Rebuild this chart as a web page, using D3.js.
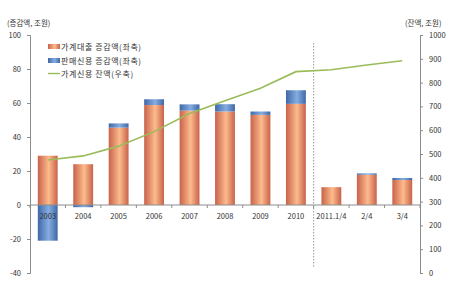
<!DOCTYPE html>
<html>
<head>
<meta charset="utf-8">
<script src="https://cdn.jsdelivr.net/npm/d3@7"></script>
<style>
    body { margin: 0; background: #fff; }
    text { font-family: "Noto Sans CJK KR", "Noto Sans", sans-serif; fill: #333; }
</style>
</head>
<body>
<div id="chart"></div>
<script>
var categories = ["2003", "2004", "2005", "2006", "2007", "2008", "2009", "2010", "2011.1/4", "2/4", "3/4"];
var loanChange = [29, 24, 45.5, 58.8, 55.5, 55, 53, 59.5, 10.5, 17.8, 14.7];
var salesCreditChange = [-21, -1.3, 2.5, 3.4, 3.7, 4.3, 2, 8, 0, 0.8, 1.2];
var creditBalance = [475, 492, 533, 594, 670, 724, 776, 846, 854, 874, 892];
var leftTicks = [-40, -20, 0, 20, 40, 60, 80, 100];
var rightTicks = [0, 100, 200, 300, 400, 500, 600, 700, 800, 900, 1000];
var legendLabels = ["가계대출 증감액(좌축)", "판매신용 증감액(좌축)", "가계신용 잔액(우축)"];

var width = 450, height = 281;

var svg = d3.select("#chart").append("svg")
    .attr("width", width)
    .attr("height", height);

var x = d3.scaleBand().domain(categories).range([30, 420]).paddingInner(0.44).paddingOuter(0.22);
var yL = d3.scaleLinear().domain([-40, 100]).range([273, 35]);
var yR = d3.scaleLinear().domain([0, 1000]).range([273, 35]);

// gradients for cylinder look
var defs = svg.append("defs");
function grad(id, edge, mid) {
    var g = defs.append("linearGradient").attr("id", id)
        .attr("x1", "0%").attr("x2", "100%").attr("y1", "0%").attr("y2", "0%");
    g.append("stop").attr("offset", "0%").attr("stop-color", edge);
    g.append("stop").attr("offset", "55%").attr("stop-color", mid);
    g.append("stop").attr("offset", "100%").attr("stop-color", edge);
}
grad("gOrange", "#c8624a", "#fdbb8c");
grad("gBlue", "#3e67a8", "#86ade0");

// axes
var axisColor = "#8c8c8c";
var plain = function (d) { return String(d); };
var leftAxis = svg.append("g").attr("transform", "translate(30,0)")
    .call(d3.axisLeft(yL).tickValues(leftTicks).tickFormat(plain).tickSize(3).tickPadding(6));
var rightAxis = svg.append("g").attr("transform", "translate(420,0)")
    .call(d3.axisRight(yR).tickValues(rightTicks).tickFormat(plain).tickSize(3).tickPadding(6));
[leftAxis, rightAxis].forEach(function (a) {
    a.select(".domain").attr("stroke", axisColor);
    a.selectAll(".tick line").attr("stroke", axisColor);
    a.selectAll("text").attr("font-size", 7.5).attr("fill", "#333");
});

// bars
svg.append("g").selectAll("rect.o").data(categories)
    .enter().append("rect")
    .attr("x", function (d) { return x(d); })
    .attr("width", x.bandwidth())
    .attr("y", function (d, i) { return yL(loanChange[i]); })
    .attr("height", function (d, i) { return yL(0) - yL(loanChange[i]); })
    .attr("fill", "url(#gOrange)");

svg.append("g").selectAll("rect.b").data(categories)
    .enter().append("rect")
    .attr("x", function (d) { return x(d); })
    .attr("width", x.bandwidth())
    .attr("y", function (d, i) {
        var v = salesCreditChange[i];
        return v >= 0 ? yL(loanChange[i] + v) : yL(0);
    })
    .attr("height", function (d, i) { return Math.abs(yL(0) - yL(salesCreditChange[i])); })
    .attr("fill", "url(#gBlue)");

// x axis
var xAxis = svg.append("g").attr("transform", "translate(0," + yL(0) + ")");
xAxis.append("line").attr("x1", 30).attr("x2", 420).attr("stroke", axisColor);
var step = x.step();
xAxis.selectAll("line.tk").data(d3.range(categories.length + 1))
    .enter().append("line")
    .attr("x1", function (i) { return 30 + i * step; })
    .attr("x2", function (i) { return 30 + i * step; })
    .attr("y1", 0).attr("y2", 3)
    .attr("stroke", axisColor);
xAxis.selectAll("text").data(categories)
    .enter().append("text")
    .attr("x", function (d) { return x(d) + x.bandwidth() / 2; })
    .attr("y", 14)
    .attr("text-anchor", "middle")
    .attr("font-size", 7.5)
    .text(function (d) { return d; });

// dotted divider
var divX = 30 + 8 * step;
svg.append("line")
    .attr("x1", divX).attr("x2", divX)
    .attr("y1", 43).attr("y2", 268)
    .attr("stroke", "#999")
    .attr("stroke-dasharray", "1.5,1.5");

// balance line
var line = d3.line()
    .x(function (d, i) { return x(categories[i]) + x.bandwidth() / 2; })
    .y(function (d) { return yR(d); });
svg.append("path").datum(creditBalance)
    .attr("d", line)
    .attr("fill", "none")
    .attr("stroke", "#9bbb59")
    .attr("stroke-width", 1.6);

// axis titles
svg.append("text").attr("x", 7).attr("y", 26).attr("font-size", 7.5).text("(증감액, 조원)");
svg.append("text").attr("x", 405).attr("y", 26).attr("font-size", 7.5).text("(잔액, 조원)");

// legend
var legend = svg.append("g").attr("transform", "translate(48,0)");
var ly = [47, 61, 74];
legend.append("rect").attr("x", 0).attr("y", ly[0] - 3).attr("width", 12).attr("height", 5).attr("fill", "url(#gOrange)");
legend.append("rect").attr("x", 0).attr("y", ly[1] - 3).attr("width", 12).attr("height", 5).attr("fill", "url(#gBlue)");
legend.append("line").attr("x1", 0).attr("x2", 12).attr("y1", ly[2] - 0.5).attr("y2", ly[2] - 0.5)
    .attr("stroke", "#9bbb59").attr("stroke-width", 1.4);
legend.selectAll("text.lg").data(legendLabels)
    .enter().append("text")
    .attr("x", 13)
    .attr("y", function (d, i) { return ly[i] + 3; })
    .attr("font-size", 8)
    .attr("letter-spacing", 0.6)
    .text(function (d) { return d; });
</script>
</body>
</html>
